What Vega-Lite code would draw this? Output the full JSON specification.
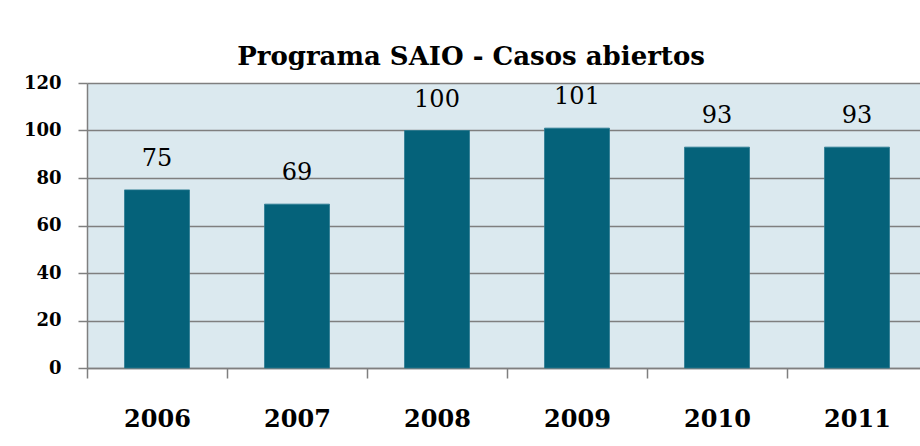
{
  "$schema": "https://vega.github.io/schema/vega-lite/v6.json",
  "autosize": "none",
  "padding": {"left": 87, "top": 83, "right": 0, "bottom": 78},
  "width": 840,
  "height": 285,
  "background": "white",
  "title": {
    "text": "Programa SAIO - Casos abiertos",
    "font": "DejaVu Serif",
    "fontSize": 26,
    "fontWeight": "bold",
    "color": "black",
    "anchor": "middle",
    "frame": "group",
    "baseline": "alphabetic",
    "dx": -36,
    "offset": -17
  },
  "config": {
    "view": {"fill": "#dbe9ef", "stroke": null},
    "font": "DejaVu Serif",
    "text": {"font": "DejaVu Serif"}
  },
  "data": {
    "values": [
      {"year": "2006", "value": 75},
      {"year": "2007", "value": 69},
      {"year": "2008", "value": 100},
      {"year": "2009", "value": 101},
      {"year": "2010", "value": 93},
      {"year": "2011", "value": 93}
    ]
  },
  "encoding": {
    "x": {
      "field": "year",
      "type": "nominal",
      "sort": null,
      "scale": {"paddingInner": 0, "paddingOuter": 0},
      "axis": {
        "title": null,
        "labelAngle": 0,
        "labelFont": "DejaVu Serif",
        "labelFontSize": 24,
        "labelFontWeight": "bold",
        "labelColor": "black",
        "labelBaseline": "middle",
        "labelPadding": 41,
        "tickBand": "extent",
        "tickSize": 10,
        "tickColor": "#7f7f7f",
        "tickWidth": 1.5,
        "domainColor": "#7f7f7f",
        "domainWidth": 1.5,
        "grid": false
      }
    },
    "y": {
      "field": "value",
      "type": "quantitative",
      "scale": {"domain": [0, 120], "nice": false},
      "axis": {
        "title": null,
        "values": [0, 20, 40, 60, 80, 100, 120],
        "labelFont": "DejaVu Serif",
        "labelFontSize": 18,
        "labelFontWeight": "bold",
        "labelColor": "black",
        "labelPadding": 17,
        "tickSize": 9,
        "tickColor": "#7f7f7f",
        "tickWidth": 1.5,
        "domainColor": "#7f7f7f",
        "domainWidth": 1.5,
        "grid": true,
        "gridColor": "#7f7f7f",
        "gridWidth": 1.5
      }
    }
  },
  "layer": [
    {
      "mark": {"type": "bar", "color": "#05627a", "stroke": "#2a7a90", "strokeWidth": 0.8, "width": {"band": 0.464}}
    },
    {
      "mark": {"type": "text", "baseline": "middle", "dy": -31, "fontSize": 24, "fontWeight": "normal", "color": "black", "font": "DejaVu Serif"},
      "encoding": {"text": {"field": "value", "type": "quantitative"}}
    }
  ]
}
